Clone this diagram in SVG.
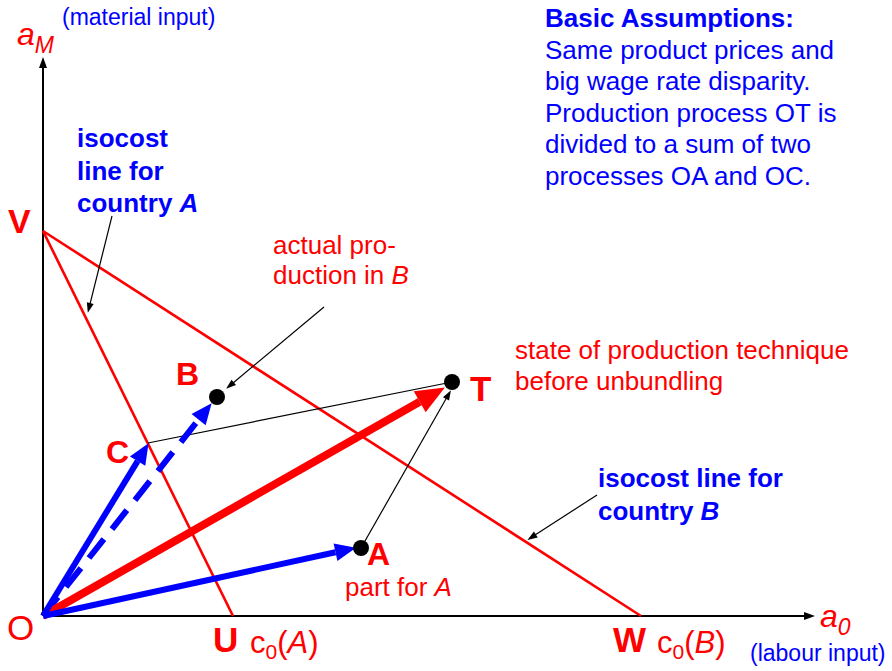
<svg xmlns="http://www.w3.org/2000/svg" width="892" height="671" viewBox="0 0 892 671">
<style>
text{font-family:"Liberation Sans",Arial,sans-serif;}
.r{fill:#FF0000;}
.b{fill:#0000FF;}
.bb{fill:#0000FF;font-weight:bold;}
.big{fill:#FF0000;font-weight:bold;font-size:32px;}
.t26{font-size:26px;}
.par{fill:#0000FF;font-size:23px;}
.iso{stroke:#FF0000;stroke-width:2.6;fill:none;}
.thin{stroke:#000;stroke-width:1.2;fill:none;}
.dot{fill:#000;}
</style>
<defs>
<marker id="axh" markerUnits="userSpaceOnUse" markerWidth="12" markerHeight="10" refX="0" refY="0" orient="auto" overflow="visible"><path d="M0,-4 L11,0 L0,4 Z" fill="#000"/></marker>
<marker id="bh" markerUnits="userSpaceOnUse" markerWidth="24" markerHeight="20" refX="0" refY="0" orient="auto" overflow="visible"><path d="M0,-9 L21,0 L0,9 Z" fill="#0000FF"/></marker>
<marker id="rh" markerUnits="userSpaceOnUse" markerWidth="30" markerHeight="26" refX="0" refY="0" orient="auto" overflow="visible"><path d="M0,-12 L29,0 L0,12 Z" fill="#FF0000"/></marker>
<marker id="kh" markerUnits="userSpaceOnUse" markerWidth="12" markerHeight="10" refX="0" refY="0" orient="auto" overflow="visible"><path d="M-1,-3.5 L9,0 L-1,3.5 Z" fill="#000"/></marker>
</defs>

<g id="axes">
<line x1="43" y1="616" x2="43" y2="68" stroke="#000" stroke-width="2" marker-end="url(#axh)"/>
<line x1="43" y1="616" x2="804" y2="616" stroke="#000" stroke-width="2" marker-end="url(#axh)"/>
</g>

<g id="isocost-lines">
<line class="iso" x1="43" y1="231" x2="233" y2="616"/>
<line class="iso" x1="43" y1="231" x2="641" y2="616"/>
</g>

<g id="connectors">
<line class="thin" x1="148" y1="443" x2="452" y2="382"/>
<line class="thin" x1="361" y1="548" x2="446.5" y2="398" marker-end="url(#kh)"/>
<line class="thin" x1="324" y1="307" x2="233" y2="383" marker-end="url(#kh)"/>
<line class="thin" x1="112" y1="216" x2="90" y2="304" marker-end="url(#kh)"/>
<line class="thin" x1="597" y1="495" x2="535" y2="535" marker-end="url(#kh)"/>
<line x1="43" y1="616" x2="198.6" y2="419.7" stroke="#0000FF" stroke-width="6" stroke-dasharray="24 13" marker-end="url(#bh)"/>
<line x1="43" y1="616" x2="419.7" y2="401.8" stroke="#FF0000" stroke-width="8" marker-end="url(#rh)"/>
<line x1="43" y1="616" x2="137.6" y2="461.1" stroke="#0000FF" stroke-width="6" marker-end="url(#bh)"/>
<line x1="43" y1="616" x2="335.5" y2="552.3" stroke="#0000FF" stroke-width="6" marker-end="url(#bh)"/>
</g>

<g id="node-B"><circle class="dot" cx="217" cy="397" r="8"/><text class="big" x="176" y="385">B</text></g>
<g id="node-T"><circle class="dot" cx="452" cy="382" r="8"/><text class="big" x="470" y="401" style="font-size:35px">T</text></g>
<g id="node-A"><circle class="dot" cx="361" cy="548" r="8"/><text class="big" x="367" y="565">A</text><text class="r t26" x="345" y="596">part for <tspan font-style="italic">A</tspan></text></g>
<g id="node-C"><text class="big" x="106" y="463">C</text></g>
<g id="node-V"><text class="big" x="8" y="233" style="font-size:34px">V</text></g>
<g id="node-O"><text class="r" x="7" y="640" style="font-size:35px">O</text></g>
<g id="node-U"><text class="big" x="213" y="652" style="font-size:35px">U</text><text class="r" x="250" y="653" style="font-size:31px">c<tspan font-size="21px" dy="6">0</tspan><tspan dy="-6">(</tspan><tspan font-style="italic">A</tspan>)</text></g>
<g id="node-W"><text class="big" x="613" y="652" style="font-size:35px">W</text><text class="r" x="657" y="653" style="font-size:31px">c<tspan font-size="21px" dy="6">0</tspan><tspan dy="-6">(</tspan><tspan font-style="italic">B</tspan>)</text></g>

<g id="axis-labels">
<text class="r" x="17" y="45" style="font-size:32px;font-style:italic">a<tspan font-size="23px" dy="8">M</tspan></text>
<text class="par" x="62" y="25">(material input)</text>
<text class="r" x="820" y="627" style="font-size:32px;font-style:italic">a<tspan font-size="23px" dy="8">0</tspan></text>
<text class="par" x="750" y="661">(labour input)</text>
</g>

<g id="label-isocost-A">
<text class="bb t26" x="77" y="147">isocost</text>
<text class="bb t26" x="77" y="180">line for</text>
<text class="bb t26" x="77" y="212">country <tspan font-style="italic">A</tspan></text>
</g>
<g id="label-isocost-B">
<text class="bb t26" x="598" y="487">isocost line for</text>
<text class="bb t26" x="598" y="520">country <tspan font-style="italic">B</tspan></text>
</g>
<g id="label-actual">
<text class="r t26" x="273" y="254">actual pro-</text>
<text class="r t26" x="273" y="284">duction in <tspan font-style="italic">B</tspan></text>
</g>
<g id="label-state">
<text class="r t26" x="515" y="359">state of production technique</text>
<text class="r t26" x="515" y="390">before unbundling</text>
</g>
<g id="assumptions">
<text class="bb t26" x="545" y="27">Basic Assumptions:</text>
<text class="b t26" x="545" y="58.6">Same product prices and</text>
<text class="b t26" x="545" y="90.2">big wage rate disparity.</text>
<text class="b t26" x="545" y="121.8">Production process OT is</text>
<text class="b t26" x="545" y="153.4">divided to a sum of two</text>
<text class="b t26" x="545" y="185">processes OA and OC.</text>
</g>
</svg>
